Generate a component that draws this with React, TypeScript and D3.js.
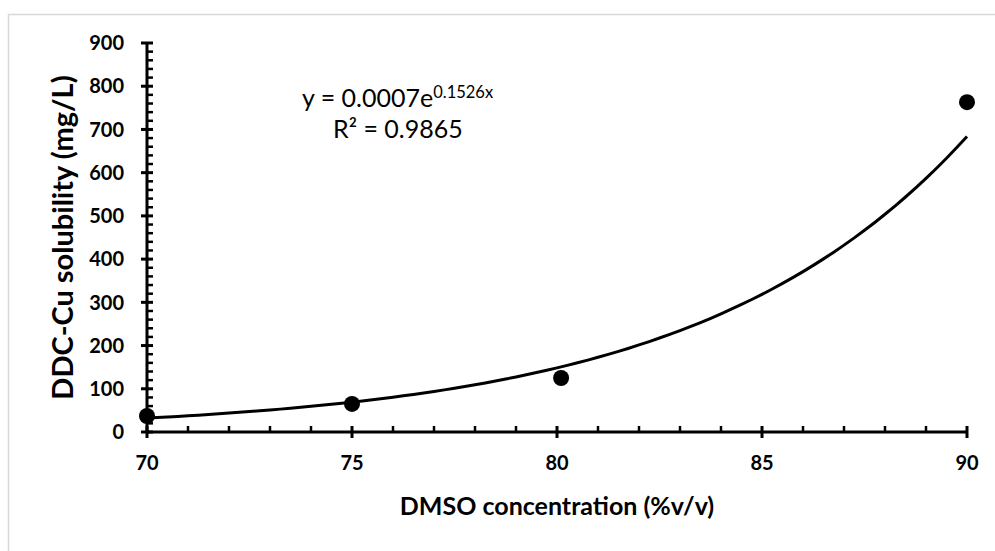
import { useMemo } from 'react';
import * as d3 from 'd3';

const W = 995;
const H = 551;
const MARGIN = { top: 43, right: 28, bottom: 119, left: 147 };

// DMSO concentration (%v/v) vs DDC-Cu solubility (mg/L)
const dmso = [70, 75, 80.1, 90];
const solubility = [37, 65, 125, 763];
const yTicks = [0, 100, 200, 300, 400, 500, 600, 700, 800, 900];
const xTicks = [70, 75, 80, 85, 90];

const FONT = 'Lato, "Open Sans", sans-serif';

// exponential least-squares fit on ln(y), as a spreadsheet trendline does
function fitExp(xs: number[], ys: number[]) {
  const ly = ys.map(Math.log);
  const mx = d3.mean(xs)!;
  const my = d3.mean(ly)!;
  const sxy = d3.sum(xs, (x, i) => (x - mx) * (ly[i] - my));
  const sxx = d3.sum(xs, x => (x - mx) ** 2);
  const b = sxy / sxx;
  const a = Math.exp(my - b * mx);
  return { a, b };
}

export default function App() {
  const innerW = W - MARGIN.left - MARGIN.right;
  const innerH = H - MARGIN.top - MARGIN.bottom;

  const x = d3.scaleLinear().domain([70, 90]).range([0, innerW]);
  const y = d3.scaleLinear().domain([0, 900]).range([innerH, 0]);

  const trend = useMemo(() => {
    const { a, b } = fitExp(dmso, solubility);
    const pts: [number, number][] = d3.range(70, 90.001, 0.25).map(v => [v, a * Math.exp(b * v)]);
    return d3.line<[number, number]>().x(d => x(d[0])).y(d => y(d[1]))(pts) ?? '';
  }, []);

  const yMinor = d3.range(0, 901, 20).filter(v => v % 100 !== 0);
  const xMinor = d3.range(70, 91, 1).filter(v => v % 5 !== 0);

  return (
    <svg width={W} height={H} style={{ position: 'absolute', left: 0, top: 0, background: '#fff' }}>
      <rect x={8.5} y={14.5} width={W} height={H} fill="#fff" stroke="#d9d9d9" strokeWidth={1.5} />
      <g transform={`translate(${MARGIN.left},${MARGIN.top})`}>
        {/* trendline */}
        <path d={trend} fill="none" stroke="#000" strokeWidth={3} />

        {/* y axis */}
        <line x1={0} x2={0} y1={0} y2={innerH} stroke="#000" strokeWidth={3} />
        {yMinor.map(v => (
          <line key={'ym' + v} x1={0} x2={6} y1={y(v)} y2={y(v)} stroke="#000" strokeWidth={2.5} />
        ))}
        {yTicks.map(v => (
          <g key={'y' + v}>
            <line x1={-6} x2={6} y1={y(v)} y2={y(v)} stroke="#000" strokeWidth={3} />
            <text x={-23} y={y(v)} dy="0.36em" textAnchor="end" fontFamily={FONT} fontWeight={700} fontSize={20}>
              {v}
            </text>
          </g>
        ))}

        {/* x axis */}
        <line x1={0} x2={innerW} y1={innerH} y2={innerH} stroke="#000" strokeWidth={3} />
        {xMinor.map(v => (
          <line key={'xm' + v} x1={x(v)} x2={x(v)} y1={innerH} y2={innerH - 6} stroke="#000" strokeWidth={2.5} />
        ))}
        {xTicks.map(v => (
          <g key={'x' + v}>
            <line x1={x(v)} x2={x(v)} y1={innerH - 6} y2={innerH + 6} stroke="#000" strokeWidth={3} />
            <text x={x(v)} y={innerH + 38} textAnchor="middle" fontFamily={FONT} fontWeight={700} fontSize={20}>
              {v}
            </text>
          </g>
        ))}

        {/* points */}
        {dmso.map((d, i) => (
          <circle key={i} cx={x(d)} cy={y(solubility[i])} r={8} fill="#000" />
        ))}

        {/* equation */}
        <text x={155} y={64} fontFamily={FONT} fontSize={25}>
          y = 0.0007e<tspan dy={-9} fontSize={16.5}>0.1526x</tspan>
        </text>
        <text x={186} y={95} fontFamily={FONT} fontSize={25}>
          R² = 0.9865
        </text>
      </g>

      {/* axis titles */}
      <text
        transform={`translate(73,${MARGIN.top + innerH / 2}) rotate(-90)`}
        textAnchor="middle"
        fontFamily={FONT}
        fontWeight={700}
        fontSize={29}
      >
        DDC-Cu solubility (mg/L)
      </text>
      <text x={MARGIN.left + innerW / 2} y={515} textAnchor="middle" fontFamily={FONT} fontWeight={700} fontSize={25}>
        DMSO concentration (%v/v)
      </text>
    </svg>
  );
}
